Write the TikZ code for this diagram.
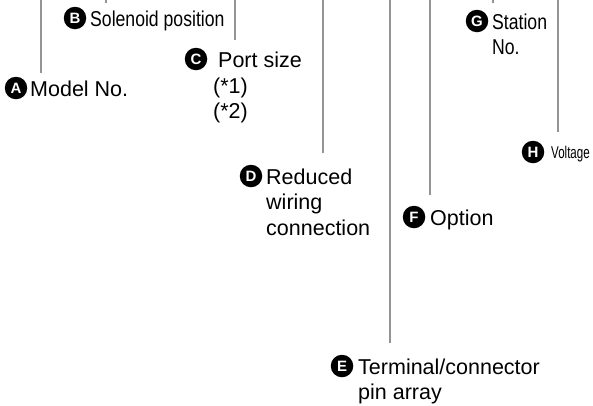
\documentclass[tikz,border=0pt]{standalone}
\usepackage{fontspec}
\setmainfont{Liberation Sans}
\newfontfamily\narrowfont[FakeStretch=0.82]{Liberation Sans}
\newfontfamily\tightfont[FakeStretch=0.68]{Liberation Sans}
\begin{document}
\begin{tikzpicture}[x=1pt,y=-1pt,
  badge/.style={circle,fill=black,text=white,inner sep=0pt,minimum size=22.5pt,
    font=\bfseries\fontsize{15}{15}\selectfont},
  % multi-line labels are placed by the baseline of their last line
  lbl/.style={anchor=base west,inner sep=0pt,align=left,
    font=\fontsize{21.5}{25.5}\selectfont},
  leader/.style={draw=black!42,line width=2pt}]
\useasboundingbox (0,0) rectangle (593,405);

% top ends of the leader lines
\coordinate (tA) at (41,0);
\coordinate (tB) at (106,0);
\coordinate (tC) at (235,0);
\coordinate (tD) at (323,0);
\coordinate (tE) at (390,0);
\coordinate (tF) at (430,0);
\coordinate (tG) at (493,0);
\coordinate (tH) at (558,0);

% lower ends
\coordinate (bA) at (41,73);
\coordinate (bB) at (106,3);
\coordinate (bC) at (235,40);
\coordinate (bD) at (323,153);
\coordinate (bE) at (390,343);
\coordinate (bF) at (430,195);
\coordinate (bG) at (493,3);
\coordinate (bH) at (558,132);

\foreach \k in {A,B,C,D,E,F,G,H}
  \draw[leader] (t\k) -- (b\k);

% A: model number
\node[badge] (cA) at (16,88) {A};
\node[lbl] (lA) at (30,96) {Model No.};

% B: solenoid position
\node[badge] (cB) at (75,18) {B};
\node[lbl,font=\narrowfont\fontsize{21.5}{25.5}\selectfont] (lB) at (90,26) {Solenoid position};

% C: port size
\node[badge] (cC) at (196,59) {C};
\node[lbl] (lC) at (218,67) {Port size};
\node[lbl] (lC2) at (213,118.5) {(*1)\\(*2)};

% D: reduced wiring connection
\node[badge] (cD) at (251,176) {D};
\node[lbl] (lD) at (266,184) {Reduced};
\node[lbl] (lD2) at (266,235) {wiring\\connection};

% E: terminal/connector pin array
\node[badge] (cE) at (342,366) {E};
\node[lbl] (lE) at (358,399.5) {Terminal/connector\\pin array};

% F: option
\node[badge] (cF) at (414,217) {F};
\node[lbl] (lF) at (430,225) {Option};

% G: station number
\node[badge] (cG) at (477,21) {G};
\node[lbl,font=\narrowfont\fontsize{21.5}{25.5}\selectfont] (lG) at (492,54.5) {Station\\No.};

% H: voltage
\node[badge] (cH) at (533,152) {H};
\node[lbl,font=\tightfont\fontsize{17}{18}\selectfont] (lH) at (551,158) {Voltage};
\end{tikzpicture}
\end{document}
